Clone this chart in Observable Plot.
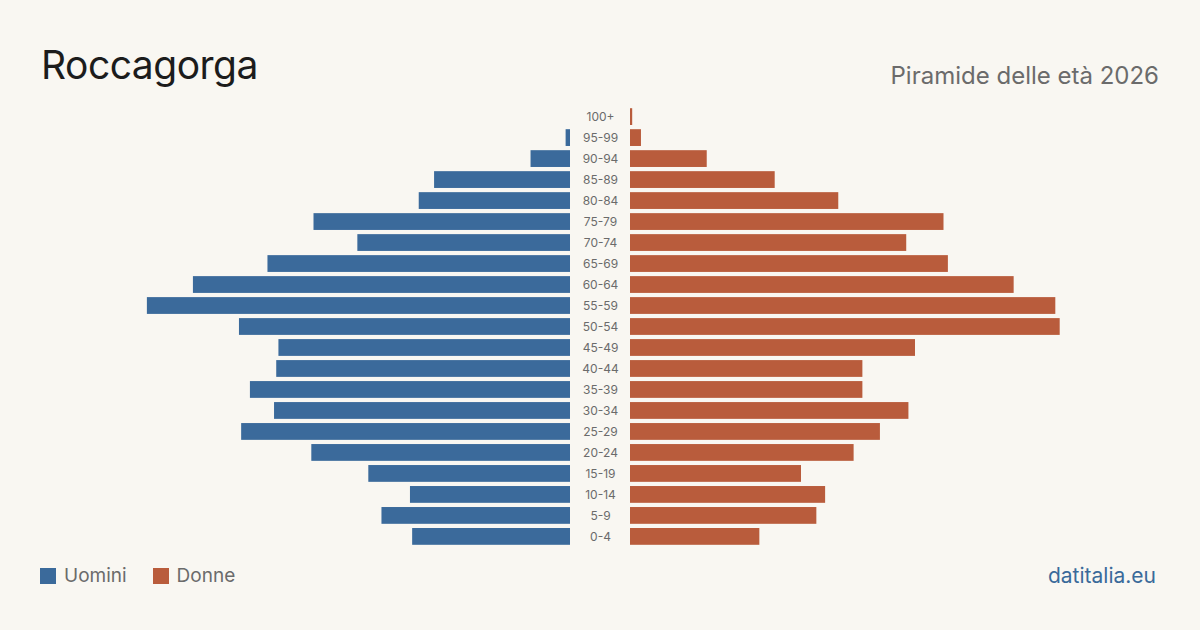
<!DOCTYPE html>
<html>
<head>
<meta charset="utf-8">
<script src="https://cdn.jsdelivr.net/npm/d3@7"></script>
<script src="https://cdn.jsdelivr.net/npm/@observablehq/plot@0.6"></script>
<style>
  html, body { margin: 0; padding: 0; }
  body { width: 1200px; height: 630px; background: #f9f7f2; position: relative; overflow: hidden; font-family: Inter, "Noto Sans", sans-serif; }
  .abs { position: absolute; }
  #title { left: 41px; top: 45px; font-size: 39px; color: #1c1c1c; letter-spacing: -0.5px; line-height: 1; }
  #subtitle { right: 41px; top: 64px; font-size: 24px; color: #6b6b6b; line-height: 1; }
  #legend { left: 40px; top: 566px; font-size: 19px; color: #6b6b6b; display: flex; align-items: center; line-height: 20px; }
  #legend .sw { width: 16px; height: 16px; display: inline-block; margin-right: 8px; }
  #legend .item { display: flex; align-items: center; margin-right: 26px; }
  #source { right: 44px; top: 565px; font-size: 21px; color: #3a6a9a; line-height: 1; }
  #left { left: 0; top: 0; }
  #right { left: 570px; top: 0; }
</style>
</head>
<body>
<div id="title" class="abs">Roccagorga</div>
<div id="subtitle" class="abs">Piramide delle età 2026</div>
<div id="left" class="abs"></div>
<div id="right" class="abs"></div>
<div id="legend" class="abs"></div>
<div id="source" class="abs">datitalia.eu</div>
<script>
// Age classes, oldest at the top
const ages = ["100+", "95-99", "90-94", "85-89", "80-84", "75-79", "70-74", "65-69", "60-64", "55-59",
  "50-54", "45-49", "40-44", "35-39", "30-34", "25-29", "20-24", "15-19", "10-14", "5-9", "0-4"];
// Residents per age class
const uomini = [0, 2, 18, 62, 69, 117, 97, 138, 172, 193, 151, 133, 134, 146, 135, 150, 118, 92, 73, 86, 72];
const donne  = [1, 5, 35, 66, 95, 143, 126, 145, 175, 194, 196, 130, 106, 106, 127, 114, 102, 78, 89, 85, 59];

const seriesNames = ["Uomini", "Donne"];
const colors = ["#3b6a9b", "#b95c3c"];
const xMax = 260;

const rows = ages.map((a, i) => ({ age: a, m: uomini[i], f: donne[i] }));

const H = 630, MT = 104, MB = 81;
const yOpts = { domain: ages, padding: 0.2, round: false, axis: null };

const leftPlot = Plot.plot({
  width: 570, height: H,
  marginLeft: 0, marginRight: 0, marginTop: MT, marginBottom: MB,
  style: { background: "transparent" },
  x: { domain: [0, xMax], reverse: true, axis: null },
  y: yOpts,
  marks: [
    Plot.barX(rows, { x: "m", y: "age", fill: colors[0] })
  ]
});

const rightPlot = Plot.plot({
  width: 630, height: H,
  marginLeft: 60, marginRight: 0, marginTop: MT, marginBottom: MB,
  style: { background: "transparent" },
  x: { domain: [0, xMax], axis: null },
  y: yOpts,
  marks: [
    Plot.barX(rows, { x: "f", y: "age", fill: colors[1] }),
    Plot.text(rows, { y: "age", text: "age", frameAnchor: "left", dx: -30, textAnchor: "middle",
      fill: "#6b6b6b", fontSize: 12, fontFamily: "Inter, sans-serif" })
  ]
});

document.getElementById("left").appendChild(leftPlot);
document.getElementById("right").appendChild(rightPlot);

const legend = document.getElementById("legend");
seriesNames.forEach((name, i) => {
  const item = document.createElement("span");
  item.className = "item";
  const sw = document.createElement("span");
  sw.className = "sw";
  sw.style.background = colors[i];
  item.appendChild(sw);
  item.appendChild(document.createTextNode(name));
  legend.appendChild(item);
});
</script>
</body>
</html>
